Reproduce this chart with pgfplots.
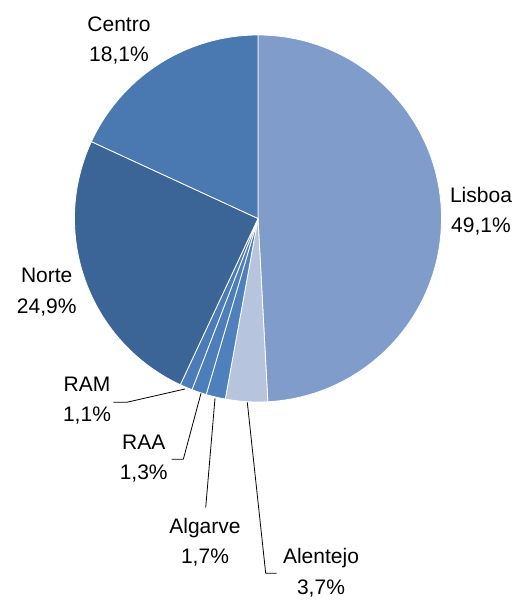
\documentclass[border=0pt]{standalone}
\usepackage{pgfplots}
\pgfplotsset{compat=1.18}
\usepackage{fontspec}
\setmainfont{Liberation Sans}
\definecolor{cLis}{HTML}{7F9CCA}
\definecolor{cAle}{HTML}{B7C4DE}
\definecolor{cAlg}{HTML}{4F80BE}
\definecolor{cRAA}{HTML}{4D7EBC}
\definecolor{cRAM}{HTML}{4B7BB8}
\definecolor{cNor}{HTML}{3C6597}
\definecolor{cCen}{HTML}{4A79B1}
\begin{document}
\begin{tikzpicture}
\pgfmathsetmacro{\tot}{49.1+3.7+1.7+1.3+1.1+24.9+18.1}
\gdef\cum{0}
\begin{axis}[scale only axis, width=525pt, height=606pt,
  xmin=0, xmax=525, ymin=0, ymax=606, hide axis, clip=false]
\path (axis cs:0,0) rectangle (axis cs:525,606);
\foreach \v/\c in {49.1/cLis, 3.7/cAle, 1.7/cAlg, 1.3/cRAA, 1.1/cRAM, 24.9/cNor, 18.1/cCen}{
  \pgfmathsetmacro{\a}{90-360*(\cum/\tot)}
  \pgfmathsetmacro{\nc}{\cum+\v}
  \pgfmathsetmacro{\b}{90-360*(\nc/\tot)}
  \pgfmathsetmacro{\xs}{258+183.5*cos(\a)}
  \pgfmathsetmacro{\ys}{387.5+183.5*sin(\a)}
  \xdef\cum{\nc}
  \edef\temp{\noexpand\filldraw[fill=\c, draw=white, line width=0.8pt, line join=round] (axis cs:258,387.5) -- (axis cs:\xs,\ys) arc[start angle=\a, end angle=\b, radius=183.5pt] -- cycle;}
  \temp
}
% leader lines
\addplot[black, line width=0.8pt, no marks] coordinates {(185,217) (126.7,203.7) (113.3,203.7)};
\addplot[black, line width=0.8pt, no marks] coordinates {(201,212.7) (183.3,146.7) (171.7,146.7)};
\addplot[black, line width=0.8pt, no marks] coordinates {(215,207.7) (205.7,98.3)};
\addplot[black, line width=0.8pt, no marks] coordinates {(247.3,203.7) (265.7,32.7) (276.7,32.7)};
% labels
\tikzset{lab/.style={anchor=base, inner sep=0pt, font=\fontsize{21}{25}\selectfont}}
\node[lab] at (axis cs:119,574) {Centro};
\node[lab] at (axis cs:119,544) {18,1\%};
\node[lab] at (axis cs:481,403) {Lisboa};
\node[lab] at (axis cs:481,373) {49,1\%};
\node[lab] at (axis cs:46.7,323) {Norte};
\node[lab] at (axis cs:46.7,292) {24,9\%};
\node[lab] at (axis cs:87,214.3) {RAM};
\node[lab] at (axis cs:87,184) {1,1\%};
\node[lab] at (axis cs:143.7,156) {RAA};
\node[lab] at (axis cs:143.7,126) {1,3\%};
\node[lab] at (axis cs:205,72) {Algarve};
\node[lab] at (axis cs:205,42.7) {1,7\%};
\node[lab] at (axis cs:321,42.7) {Alentejo};
\node[lab] at (axis cs:321,11.7) {3,7\%};
\end{axis}
\end{tikzpicture}
\end{document}
